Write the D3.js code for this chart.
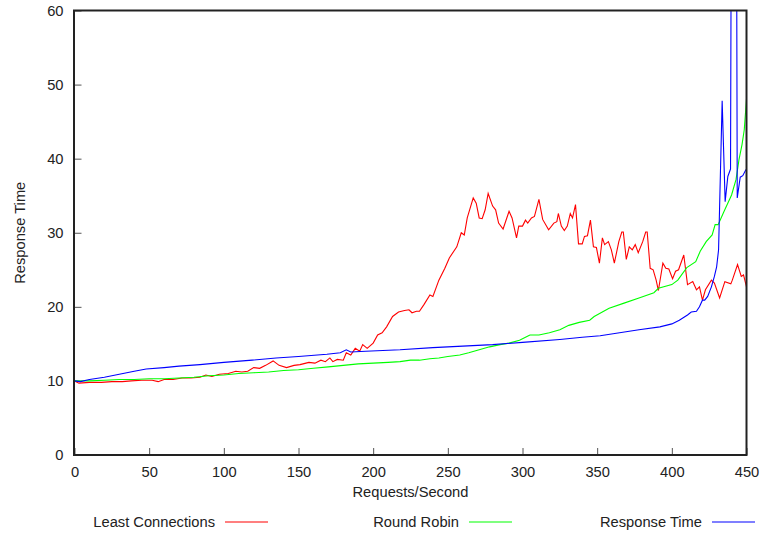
<!DOCTYPE html>
<html>
<head>
<meta charset="utf-8">
<script src="https://cdn.jsdelivr.net/npm/d3@7"></script>
<style>
  body { margin: 0; background: #fff; }
  text { font-family: "Liberation Sans", Arial, sans-serif; font-size: 14.7px; fill: #222; }
</style>
</head>
<body>
<svg width="760" height="533"></svg>
<script>
// Least Connections (red)
var lcX = [0, 3, 10, 18, 25, 32, 38, 45, 52, 56, 60, 66, 72, 78, 84, 88, 92, 97, 103, 108, 112, 116, 120, 124, 128, 133, 137, 142, 147, 151,
  157, 161, 165, 168, 171, 173, 176, 180, 182, 185, 188, 191, 193, 196, 200, 203, 206, 209, 213, 217, 221, 224, 226, 229, 231, 234, 238, 240,
  244, 248, 251, 256, 259, 261, 263, 267, 269, 271, 273, 275, 277, 280, 282, 284, 287, 291, 293, 296, 297.5, 300, 302, 303.5, 306, 308, 311,
  313.5, 317.5, 321, 323, 324, 326, 328, 330, 332, 333.5, 335.5, 337.5, 340, 341.5, 343.5, 345.5, 347.5, 349.5, 351.5, 353.5, 355, 357.5,
  359.5, 361.5, 364.5, 366.5, 367.5, 369.5, 371.5, 373.5, 375.5, 377.5, 380.5, 382.5, 383.5, 385.5, 387.5, 389.5, 391, 394, 396, 398, 400.5,
  402.5, 404.5, 408, 410.5, 414, 416.5, 418.5, 420.5, 422.5, 426.5, 428.5, 432, 435.5, 439.5, 440.5, 444, 446.5, 448, 450];
var lcY = [10.0, 9.7, 9.8, 9.8, 9.9, 9.9, 10.0, 10.1, 10.1, 9.9, 10.2, 10.2, 10.4, 10.4, 10.5, 10.8, 10.6, 10.9, 11.0, 11.3, 11.2, 11.3, 11.8, 11.7, 12.1, 12.7, 12.1, 11.8, 12.1, 12.2,
  12.5, 12.4, 12.8, 12.6, 13.1, 12.6, 12.9, 12.8, 13.8, 13.5, 14.4, 14.0, 14.9, 14.4, 15.1, 16.2, 16.5, 17.3, 18.7, 19.3, 19.5, 19.6, 19.2, 19.4, 19.4, 20.3, 21.6, 21.4,
  23.6, 25.2, 26.6, 28.1, 30.0, 29.7, 32.0, 34.7, 34.0, 32.0, 31.9, 33.1, 35.3, 33.6, 33.1, 31.3, 30.5, 32.9, 32.0, 29.3, 30.9, 30.9, 31.7, 31.3, 32.0, 32.2, 34.5,
  31.8, 30.4, 31.3, 31.5, 32.6, 30.9, 30.3, 30.9, 32.6, 32.0, 33.8, 28.5, 28.5, 29.5, 29.6, 31.7, 28.1, 28.0, 25.9, 29.3, 28.4, 28.8,
  27.7, 25.9, 28.8, 30.1, 30.1, 26.4, 28.1, 27.7, 28.4, 27.3, 28.8, 30.1, 30.1, 25.2, 25.0, 23.6, 22.2, 25.9, 25.2, 25.1, 23.8,
  24.8, 25.0, 27.0, 23.0, 23.4, 22.3, 22.7, 20.9, 22.3, 23.6, 23.2, 21.2, 23.4, 23.1, 23.6, 25.7, 24.1, 24.3, 22.7];

// Round Robin (green)
var rrX = [0, 10, 20, 30, 40, 50, 60, 70, 80, 90, 100, 110, 120, 130, 140, 150, 160, 170, 180, 190, 200, 210, 218, 225, 231, 238, 244, 250,
  258, 264, 271, 278, 285, 291, 298, 303, 305, 311, 318, 325, 331, 338, 345, 348, 358, 368, 378, 388, 391, 400, 404, 410, 416, 419, 423,
  427, 429, 431, 435, 440, 443, 445, 447, 448.5, 450];
var rrY = [10.0, 10.0, 10.1, 10.2, 10.2, 10.3, 10.3, 10.4, 10.5, 10.7, 10.8, 11.0, 11.1, 11.2, 11.4, 11.5, 11.7, 11.9, 12.1, 12.3, 12.4, 12.5, 12.6, 12.8, 12.8, 13.0, 13.1, 13.3,
  13.5, 13.8, 14.2, 14.6, 14.9, 15.1, 15.5, 16.0, 16.2, 16.2, 16.5, 16.9, 17.5, 17.9, 18.2, 18.7, 19.8, 20.5, 21.2, 21.9, 22.5, 23.0, 23.6, 25.3, 26.1, 27.5, 28.8,
  29.7, 31.1, 31.1, 32.9, 35.1, 37.2, 39.9, 41.9, 43.9, 48.0];

// Response Time (blue)
var rtX = [0, 4, 10, 20, 30, 40, 48, 60, 70, 84, 100, 119, 135, 150, 169, 178, 182, 185, 195, 218, 240, 260, 280, 300, 325, 340, 352, 365,
  378, 392, 400, 405, 410.5, 413, 416.5, 418.5, 420.5, 422, 424, 426.5, 428.5, 430, 431.3, 433.7, 435.7, 437.5, 439.3, 440.2, 443, 443.8,
  445.8, 447.5, 449.3, 450];
var rtY = [10.0, 9.9, 10.2, 10.5, 10.9, 11.3, 11.6, 11.8, 12.0, 12.2, 12.5, 12.8, 13.1, 13.3, 13.6, 13.8, 14.2, 13.9, 14.0, 14.2, 14.5, 14.7, 14.9, 15.2, 15.6, 15.9, 16.1, 16.5,
  16.9, 17.3, 17.7, 18.2, 18.9, 19.3, 19.4, 20.0, 20.9, 20.9, 21.4, 22.7, 24.1, 25.4, 27.7, 47.8, 34.2, 37.6, 38.6, 100, 100, 34.7,
  37.5, 37.7, 38.4, 38.6];

var seriesNames = ['Least Connections', 'Round Robin', 'Response Time'];
var seriesColors = ['#ff0000', '#00ff00', '#0000ff'];
var xTicks = [0, 50, 100, 150, 200, 250, 300, 350, 400, 450];
var yTicks = [0, 10, 20, 30, 40, 50, 60];

var svg = d3.select('svg');
var plot = { l: 74.5, r: 746.5, t: 10.5, b: 455 };

var x = d3.scaleLinear().domain([0, 450]).range([plot.l, plot.r]);
var y = d3.scaleLinear().domain([0, 60]).range([plot.b, plot.t]);

svg.append('clipPath').attr('id', 'clip')
  .append('rect')
  .attr('x', plot.l).attr('y', plot.t)
  .attr('width', plot.r - plot.l).attr('height', plot.b - plot.t);

// axes with inward ticks
var yAxis = svg.append('g')
  .attr('transform', `translate(${plot.l},0)`)
  .call(d3.axisLeft(y).tickValues(yTicks).tickSizeInner(-7).tickSizeOuter(0).tickPadding(11));
var xAxis = svg.append('g')
  .attr('transform', `translate(0,${plot.b})`)
  .call(d3.axisBottom(x).tickValues(xTicks).tickSizeInner(-7).tickSizeOuter(0).tickPadding(12));

[xAxis, yAxis].forEach(function (g) {
  g.select('.domain').remove();
  g.selectAll('line').attr('stroke', '#555');
  g.selectAll('text').style('font-size', '14.7px').attr('fill', '#222')
    .style('font-family', '"Liberation Sans", Arial, sans-serif');
});

// lines
var data = [
  d3.zip(lcX, lcY),
  d3.zip(rrX, rrY),
  d3.zip(rtX, rtY)
];
var line = d3.line().x(d => x(d[0])).y(d => y(d[1]));

svg.append('g').attr('clip-path', 'url(#clip)')
  .selectAll('path')
  .data(data)
  .enter().append('path')
  .attr('d', line)
  .attr('fill', 'none')
  .attr('stroke', (d, i) => seriesColors[i])
  .attr('stroke-width', 1.1);

// border
svg.append('rect')
  .attr('x', plot.l - 0.5).attr('y', plot.t)
  .attr('width', plot.r - plot.l + 0.5).attr('height', plot.b - plot.t)
  .attr('fill', 'none')
  .attr('stroke', '#222')
  .attr('stroke-width', 2);

// axis titles
svg.append('text')
  .attr('x', (plot.l + plot.r) / 2).attr('y', 497)
  .attr('text-anchor', 'middle')
  .text('Requests/Second');

svg.append('text')
  .attr('transform', `translate(25,${(plot.t + plot.b) / 2}) rotate(-90)`)
  .attr('text-anchor', 'middle')
  .text('Response Time');

// legend
var legendEnds = [215, 459, 702];
var legend = svg.selectAll('.legend')
  .data(seriesNames)
  .enter().append('g')
  .attr('class', 'legend');

legend.append('text')
  .attr('x', (d, i) => legendEnds[i]).attr('y', 527)
  .attr('text-anchor', 'end')
  .text(d => d);

legend.append('line')
  .attr('x1', (d, i) => legendEnds[i] + 10).attr('x2', (d, i) => legendEnds[i] + 53)
  .attr('y1', 522).attr('y2', 522)
  .attr('stroke', (d, i) => seriesColors[i])
  .attr('stroke-width', 1.1);
</script>
</body>
</html>
